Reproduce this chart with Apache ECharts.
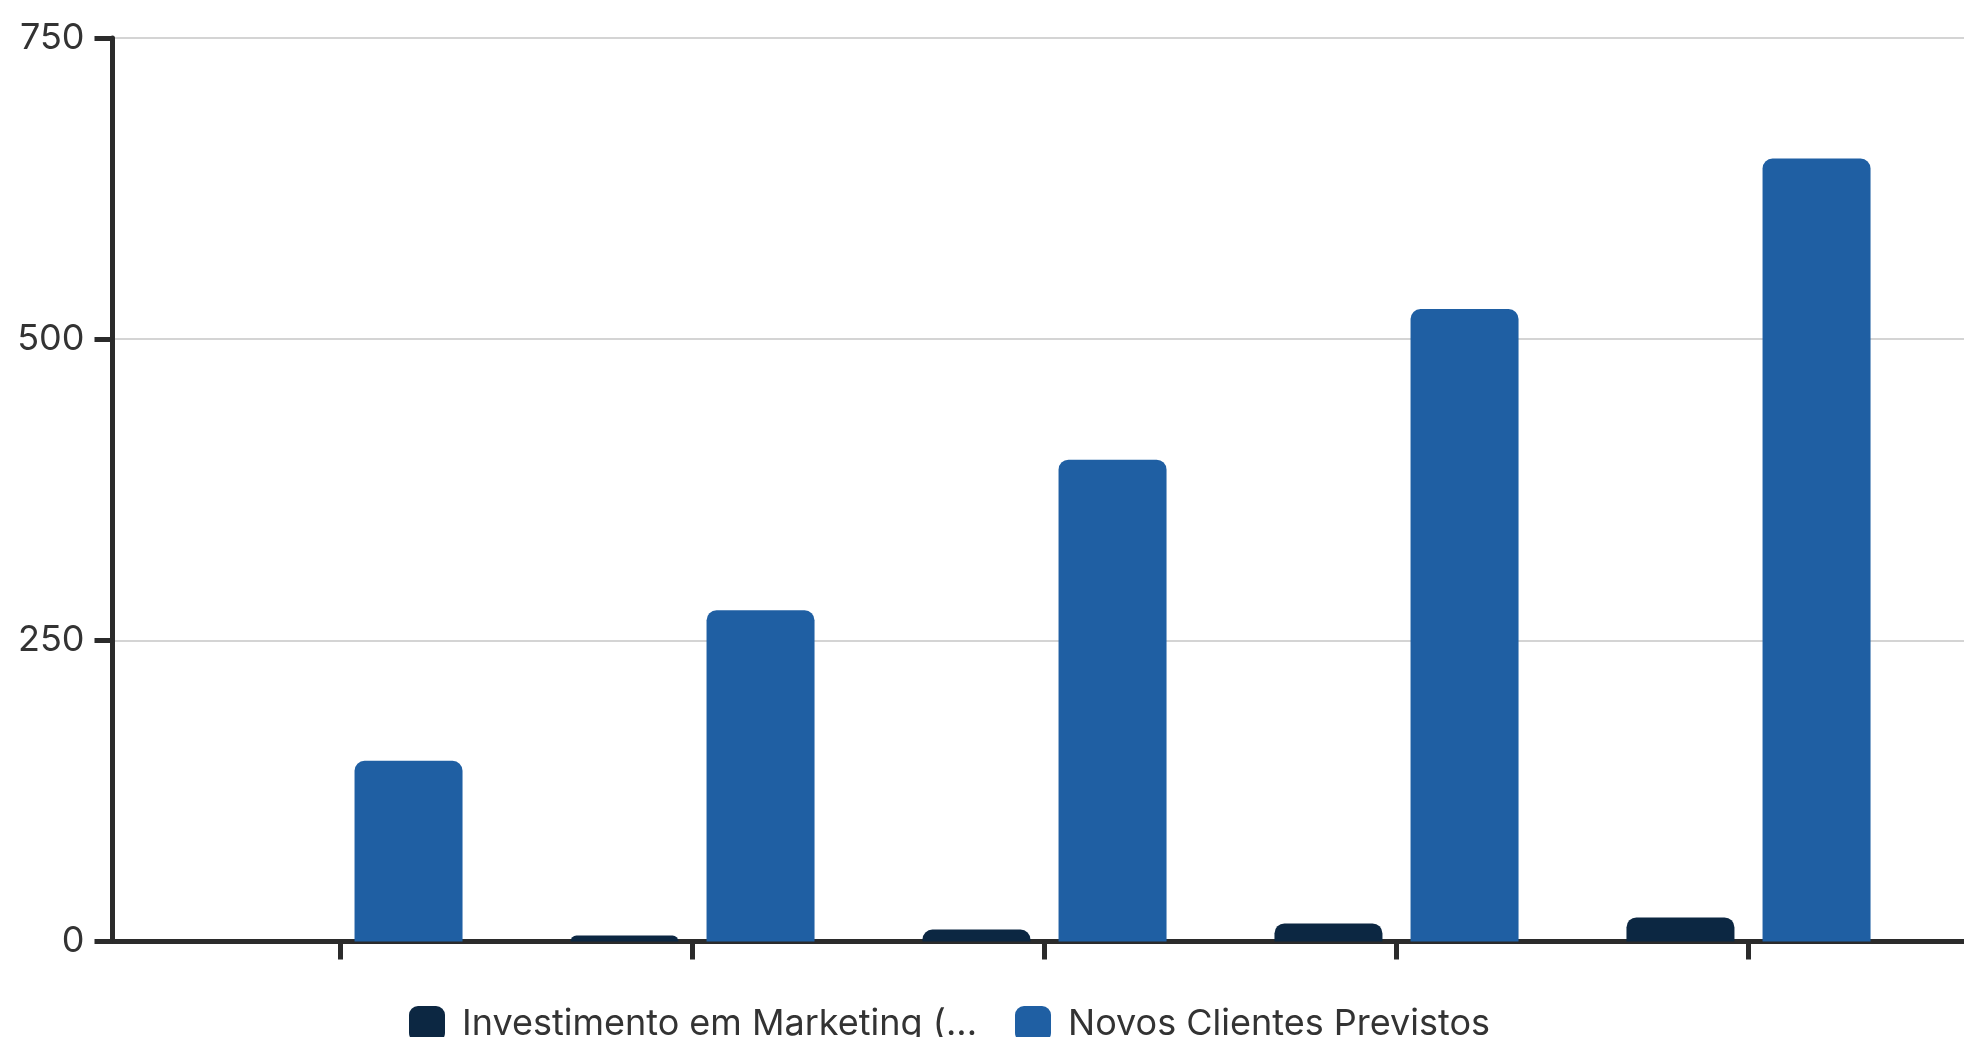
<!DOCTYPE html>
<html>
<head>
<meta charset="utf-8">
<script src="https://cdn.jsdelivr.net/npm/echarts@6/dist/echarts.min.js"></script>
<style>
  html, body { margin: 0; padding: 0; overflow: hidden; background: #fff; }
  #vis { width: 1964px; height: 1037px; }
</style>
</head>
<body>
<div id="vis"></div>
<script>
// periods (x positions of the bar groups), labels are not shown in the chart
const periods = [1, 2, 3, 4, 5];
const investimento = [0, 5, 10, 15, 20];
const novosClientes = [150, 275, 400, 525, 650];
const yTicks = [0, 250, 500, 750];
const seriesNames = ['Investimento em Marketing (R$ mil)', 'Novos Clientes Previstos'];

const chart = echarts.init(document.getElementById('vis'), null, { renderer: 'canvas' });

const axisColor = '#2b2b2b';
const font = 'Inter';

// legend names longer than this get cut with "..."
const maxLegendChars = 27;

const options = {
  animation: false,
  textStyle: { fontFamily: font },
  grid: { left: 112.5, right: 0, top: 38, bottom: 95.5 },
  legend: {
    left: 404,
    top: 1001,
    itemWidth: 36,
    itemHeight: 36,
    itemGap: 38,
    icon: 'roundRect',
    formatter: (name) => name.length > maxLegendChars ? name.slice(0, maxLegendChars) + '...' : name,
    textStyle: {
      fontFamily: font,
      fontSize: 36,
      color: '#333',
      padding: [0, 0, 0, 12]
    },
    data: seriesNames
  },
  xAxis: {
    type: 'value',
    min: 0.3523,
    max: 5.6122,
    splitLine: { show: false },
    axisLabel: { show: false },
    axisLine: { show: true, onZero: false, lineStyle: { color: axisColor, width: 5 } },
    axisTick: {
      show: true,
      customValues: periods,
      length: 18,
      lineStyle: { color: axisColor, width: 5 }
    }
  },
  yAxis: {
    type: 'value',
    min: yTicks[0],
    max: yTicks[yTicks.length - 1],
    interval: 250,
    axisLine: { show: true, lineStyle: { color: axisColor, width: 5 } },
    axisTick: { show: true, length: 18, lineStyle: { color: axisColor, width: 5 } },
    axisLabel: { fontFamily: font, fontSize: 36, color: '#333', margin: 28 },
    splitLine: { show: true, lineStyle: { color: '#d4d4d4', width: 2 } }
  },
  series: [
    {
      name: seriesNames[0],
      type: 'bar',
      barWidth: 108,
      barGap: '26%',
      itemStyle: { color: '#0c2742', borderRadius: [10, 10, 0, 0] },
      data: periods.map((p, i) => [p, investimento[i]])
    },
    {
      name: seriesNames[1],
      type: 'bar',
      barWidth: 108,
      barGap: '26%',
      itemStyle: { color: '#1f5fa3', borderRadius: [10, 10, 0, 0] },
      data: periods.map((p, i) => [p, novosClientes[i]])
    }
  ]
};

chart.setOption(options);
</script>
</body>
</html>
